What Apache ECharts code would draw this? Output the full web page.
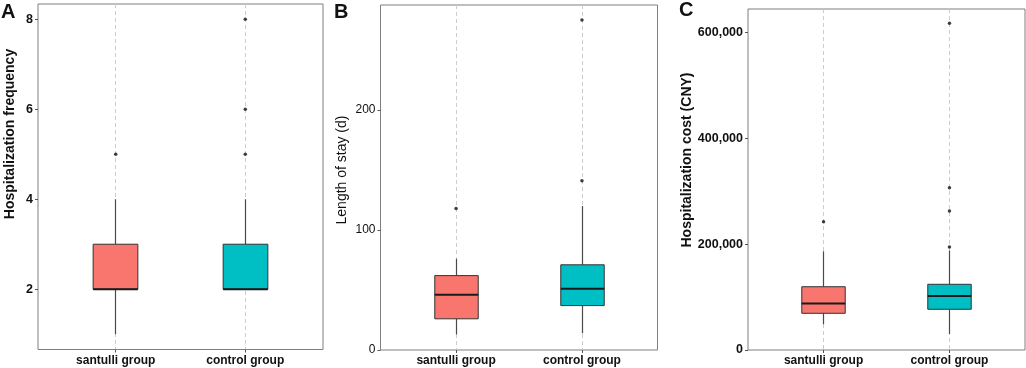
<!DOCTYPE html>
<html>
<head>
<meta charset="utf-8">
<script src="https://cdn.jsdelivr.net/npm/echarts@6/dist/echarts.min.js"></script>
<style>
html, body { margin: 0; padding: 0; background: #fff; }
#main { width: 1026px; height: 368px; }
</style>
</head>
<body>
<div id="main"></div>
<script>
// groups and colours
var groups = ['santulli group', 'control group'];
var fills = ['#F8766D', '#00BFC4'];

// A: hospitalization frequency  [min, Q1, median, Q3, max]
var freqBox = [[1, 2, 2, 3, 4], [2, 2, 2, 3, 4]];
var freqOut = [[5], [5, 6, 8]];
var freqTicks = [2, 4, 6, 8];

// B: length of stay (d)
var stayBox = [[13, 26, 46, 62, 76], [14, 37, 51, 71, 120]];
var stayOut = [[118], [141, 275]];
var stayTicks = [0, 100, 200];

// C: hospitalization cost (CNY)
var costBox = [[48700, 69300, 87800, 119500, 186400], [30200, 76900, 102000, 124100, 187900]];
var costOut = [[242300], [194700, 262300, 306500, 617000]];
var costTicks = [0, 200000, 400000, 600000];

var FONT = '"Liberation Sans", Arial, Helvetica, sans-serif';

function boxRows(box) {
	return box.map(function(b, i) { return [i + 1].concat(b); });
}
function outRows(out) {
	var rows = [];
	out.forEach(function(list, i) {
		list.forEach(function(v) { rows.push([i + 1, v]); });
	});
	return rows;
}

// same half-pixel snapping echarts uses for the split lines
function snap(x) {
	var d = Math.round(x * 2);
	return d % 2 ? d / 2 : (d + 1) / 2;
}

function renderBox(params, api) {
	var x = api.value(0);
	var lo = api.coord([x, api.value(1)]);
	var q1 = api.coord([x, api.value(2)]);
	var md = api.coord([x, api.value(3)]);
	var q3 = api.coord([x, api.value(4)]);
	var hi = api.coord([x, api.value(5)]);
	var w = api.size([0.345, 0])[0];
	var cx = snap(lo[0]);
	var whisker = { stroke: '#4a4a4a', lineWidth: 1.2 };
	return {
		type: 'group',
		children: [
			{ type: 'line', shape: { x1: cx, y1: hi[1], x2: cx, y2: q3[1] }, style: whisker },
			{ type: 'line', shape: { x1: cx, y1: q1[1], x2: cx, y2: lo[1] }, style: whisker },
			{ type: 'rect', shape: { x: cx - w / 2, y: q3[1], width: w, height: q1[1] - q3[1] },
				style: { fill: fills[params.dataIndex], stroke: '#333', lineWidth: 1 } },
			{ type: 'line', shape: { x1: cx - w / 2, y1: md[1], x2: cx + w / 2, y2: md[1] },
				style: { stroke: '#1a1a1a', lineWidth: 2 } }
		]
	};
}

var panels = [
	{ box: freqBox, out: freqOut, ticks: freqTicks, min: 0.66, max: 8.34,
		grid: { left: 38, top: 4, width: 285, height: 345.5 }, weight: 'bold', size: 12.5 },
	{ box: stayBox, out: stayOut, ticks: stayTicks, min: 0, max: 287.5,
		grid: { left: 380.5, top: 5, width: 277, height: 345 }, weight: 'normal', size: 12 },
	{ box: costBox, out: costOut, ticks: costTicks, min: 0, max: 644000,
		grid: { left: 748, top: 9, width: 277, height: 341 }, weight: 'bold', size: 12.5 }
];

var grids = [], xAxes = [], yAxes = [], series = [];
panels.forEach(function(p, i) {
	var g = Object.assign({ show: true, borderColor: '#7f7f7f', borderWidth: 1,
		backgroundColor: 'transparent', containLabel: false, outerBoundsMode: 'none' }, p.grid);
	grids.push(g);
	xAxes.push({
		gridIndex: i, type: 'value', min: 0.4, max: 2.6,
		axisLine: { show: false },
		axisTick: { show: true, length: 3, customValues: [1, 2], lineStyle: { color: '#555' } },
		axisLabel: { customValues: [1, 2], margin: 5, color: '#111', fontFamily: FONT,
			fontWeight: 'bold', fontSize: 12,
			formatter: function(v) { return groups[Math.round(v) - 1] || ''; } },
		splitLine: { show: true, lineStyle: { color: '#cccccc', width: 1, type: [4, 3] } }
	});
	yAxes.push({
		gridIndex: i, type: 'value', min: p.min, max: p.max,
		axisLine: { show: false },
		axisTick: { show: true, length: 3, customValues: p.ticks, lineStyle: { color: '#555' } },
		axisLabel: { customValues: p.ticks, margin: 5, color: '#111', fontFamily: FONT,
			fontWeight: p.weight, fontSize: p.size,
			formatter: function(v) { return echarts.format.addCommas(v); } },
		splitLine: { show: false }
	});
	series.push({
		type: 'custom', xAxisIndex: i, yAxisIndex: i,
		renderItem: renderBox,
		encode: { x: 0, y: [1, 2, 3, 4, 5] },
		data: boxRows(p.box)
	});
	series.push({
		type: 'scatter', xAxisIndex: i, yAxisIndex: i,
		symbolSize: 3.5, itemStyle: { color: '#111' },
		data: outRows(p.out)
	});
});

function label(txt, x, y, font, rot) {
	return {
		type: 'text', x: x, y: y, rotation: rot || 0,
		style: { text: txt, font: font, fill: '#111',
			textAlign: rot ? 'center' : 'left', textVerticalAlign: rot ? 'middle' : 'top',
			align: rot ? 'center' : 'left', verticalAlign: rot ? 'middle' : 'top' }
	};
}

var chart = echarts.init(document.getElementById('main'));
chart.setOption({
	animation: false,
	backgroundColor: '#fff',
	grid: grids,
	xAxis: xAxes,
	yAxis: yAxes,
	series: series,
	graphic: [
		label('A', 1, 2, 'bold 20px ' + FONT),
		label('B', 334, 2, 'bold 20px ' + FONT),
		label('C', 679, 0, 'bold 20px ' + FONT),
		label('Hospitalization frequency', 10, 134, 'bold 14px ' + FONT, Math.PI / 2),
		label('Length of stay (d)', 342.5, 170, '14px ' + FONT, Math.PI / 2),
		label('Hospitalization cost (CNY)', 687, 160, 'bold 14px ' + FONT, Math.PI / 2)
	]
});
</script>
</body>
</html>
